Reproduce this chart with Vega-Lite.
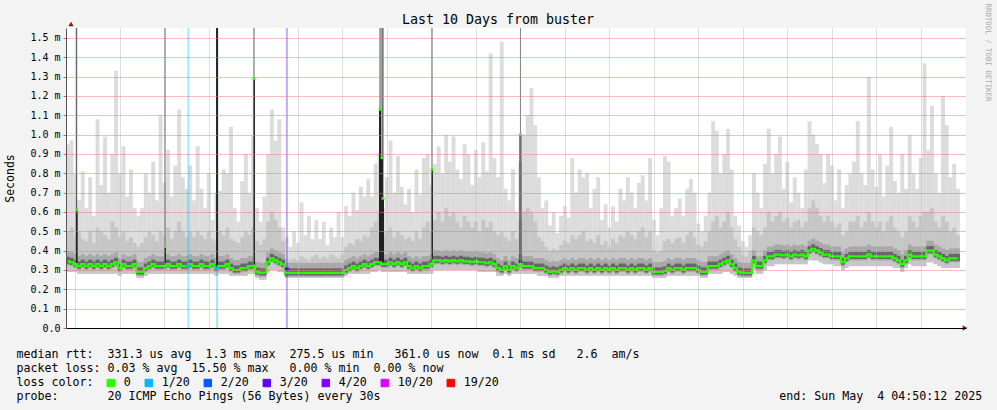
{
  "$schema": "https://vega.github.io/schema/vega-lite/v6.json",
  "width": 900,
  "height": 300,
  "autosize": {"type": "none"},
  "padding": {"left": 66, "top": 28, "right": 31, "bottom": 82},
  "background": "#f3f3f3",
  "title": {"text": "Last 10 Days from buster", "font": "DejaVu Sans Mono", "fontSize": 13.3, "fontWeight": "normal", "color": "#000000", "anchor": "middle", "frame": "group", "dx": -18, "dy": 39, "baseline": "alphabetic", "offset": 5},
  "config": {"view": {"stroke": null, "fill": "#ffffff"}, "font": "DejaVu Sans Mono"},
  "resolve": {"axis": {"y": "independent"}},
  "datasets": {
    "smoke": [
      {"t":4,"lo":0.29,"m":0.345,"h":0.5,"hi":0.95},
      {"t":5,"lo":0.29,"m":0.34,"h":0.52,"hi":0.97},
      {"t":6,"lo":0.29,"m":0.33,"h":0.48,"hi":0.8},
      {"t":7,"lo":0.28,"m":0.32,"h":0.5,"hi":0.66},
      {"t":8,"lo":0.28,"m":0.33,"h":0.46,"hi":0.81},
      {"t":9,"lo":0.28,"m":0.32,"h":0.45,"hi":0.62},
      {"t":10,"lo":0.28,"m":0.33,"h":0.5,"hi":0.78},
      {"t":11,"lo":0.28,"m":0.32,"h":0.44,"hi":0.58},
      {"t":12,"lo":0.28,"m":0.33,"h":0.52,"hi":1.08},
      {"t":13,"lo":0.28,"m":0.32,"h":0.5,"hi":0.74},
      {"t":14,"lo":0.28,"m":0.33,"h":0.48,"hi":0.99},
      {"t":15,"lo":0.28,"m":0.32,"h":0.46,"hi":0.7},
      {"t":16,"lo":0.28,"m":0.33,"h":0.55,"hi":0.9},
      {"t":17,"lo":0.28,"m":0.34,"h":0.52,"hi":1.33},
      {"t":18,"lo":0.27,"m":0.31,"h":0.47,"hi":0.8},
      {"t":19,"lo":0.28,"m":0.33,"h":0.5,"hi":0.94},
      {"t":20,"lo":0.28,"m":0.32,"h":0.45,"hi":0.68},
      {"t":21,"lo":0.28,"m":0.32,"h":0.47,"hi":0.82},
      {"t":22,"lo":0.28,"m":0.33,"h":0.44,"hi":0.62},
      {"t":23,"lo":0.26,"m":0.29,"h":0.42,"hi":0.58},
      {"t":24,"lo":0.26,"m":0.29,"h":0.44,"hi":0.62},
      {"t":25,"lo":0.27,"m":0.31,"h":0.47,"hi":0.8},
      {"t":26,"lo":0.28,"m":0.32,"h":0.5,"hi":0.7},
      {"t":27,"lo":0.28,"m":0.33,"h":0.48,"hi":0.86},
      {"t":28,"lo":0.28,"m":0.32,"h":0.45,"hi":0.66},
      {"t":29,"lo":0.28,"m":0.32,"h":0.5,"hi":1.1},
      {"t":30,"lo":0.28,"m":0.32,"h":0.48,"hi":0.75},
      {"t":31,"lo":0.28,"m":0.33,"h":0.52,"hi":0.92},
      {"t":32,"lo":0.28,"m":0.32,"h":0.46,"hi":0.68},
      {"t":33,"lo":0.28,"m":0.32,"h":0.5,"hi":0.84},
      {"t":34,"lo":0.28,"m":0.33,"h":0.55,"hi":1.13},
      {"t":35,"lo":0.28,"m":0.32,"h":0.5,"hi":0.78},
      {"t":36,"lo":0.28,"m":0.32,"h":0.47,"hi":0.72},
      {"t":37,"lo":0.28,"m":0.33,"h":0.5,"hi":0.84},
      {"t":38,"lo":0.28,"m":0.32,"h":0.47,"hi":0.66},
      {"t":39,"lo":0.28,"m":0.32,"h":0.5,"hi":0.94},
      {"t":40,"lo":0.28,"m":0.33,"h":0.48,"hi":0.72},
      {"t":41,"lo":0.28,"m":0.32,"h":0.46,"hi":0.62},
      {"t":42,"lo":0.28,"m":0.32,"h":0.5,"hi":0.8},
      {"t":43,"lo":0.28,"m":0.33,"h":0.46,"hi":0.56},
      {"t":44,"lo":0.27,"m":0.31,"h":0.45,"hi":0.7},
      {"t":45,"lo":0.28,"m":0.32,"h":0.5,"hi":0.71},
      {"t":46,"lo":0.28,"m":0.32,"h":0.48,"hi":0.82},
      {"t":47,"lo":0.28,"m":0.33,"h":0.52,"hi":0.8},
      {"t":48,"lo":0.27,"m":0.31,"h":0.46,"hi":1.04},
      {"t":49,"lo":0.27,"m":0.3,"h":0.45,"hi":0.62},
      {"t":50,"lo":0.27,"m":0.3,"h":0.44,"hi":0.55},
      {"t":51,"lo":0.27,"m":0.31,"h":0.47,"hi":0.76},
      {"t":52,"lo":0.27,"m":0.31,"h":0.5,"hi":0.9},
      {"t":53,"lo":0.28,"m":0.32,"h":0.48,"hi":0.7},
      {"t":54,"lo":0.28,"m":0.32,"h":0.52,"hi":0.99},
      {"t":55,"lo":0.26,"m":0.29,"h":0.45,"hi":0.62},
      {"t":56,"lo":0.25,"m":0.285,"h":0.43,"hi":0.55},
      {"t":57,"lo":0.25,"m":0.285,"h":0.46,"hi":0.68},
      {"t":58,"lo":0.29,"m":0.34,"h":0.55,"hi":0.9},
      {"t":59,"lo":0.3,"m":0.36,"h":0.6,"hi":1.13},
      {"t":60,"lo":0.3,"m":0.35,"h":0.56,"hi":0.97},
      {"t":61,"lo":0.29,"m":0.34,"h":0.52,"hi":1.08},
      {"t":62,"lo":0.29,"m":0.33,"h":0.45,"hi":0.52},
      {"t":63,"lo":0.26,"m":0.285,"h":0.36,"hi":0.47},
      {"t":64,"lo":0.26,"m":0.285,"h":0.35,"hi":0.42},
      {"t":65,"lo":0.26,"m":0.285,"h":0.36,"hi":0.5},
      {"t":66,"lo":0.26,"m":0.285,"h":0.35,"hi":0.44},
      {"t":67,"lo":0.26,"m":0.285,"h":0.37,"hi":0.65},
      {"t":68,"lo":0.26,"m":0.285,"h":0.36,"hi":0.48},
      {"t":69,"lo":0.26,"m":0.285,"h":0.35,"hi":0.58},
      {"t":70,"lo":0.26,"m":0.285,"h":0.37,"hi":0.46},
      {"t":71,"lo":0.26,"m":0.285,"h":0.38,"hi":0.56},
      {"t":72,"lo":0.26,"m":0.285,"h":0.36,"hi":0.46},
      {"t":73,"lo":0.26,"m":0.285,"h":0.37,"hi":0.55},
      {"t":74,"lo":0.26,"m":0.285,"h":0.36,"hi":0.43},
      {"t":75,"lo":0.26,"m":0.285,"h":0.38,"hi":0.52},
      {"t":76,"lo":0.26,"m":0.285,"h":0.37,"hi":0.47},
      {"t":77,"lo":0.26,"m":0.285,"h":0.36,"hi":0.6},
      {"t":78,"lo":0.26,"m":0.285,"h":0.38,"hi":0.47},
      {"t":79,"lo":0.27,"m":0.3,"h":0.42,"hi":0.63},
      {"t":80,"lo":0.28,"m":0.31,"h":0.44,"hi":0.58},
      {"t":81,"lo":0.28,"m":0.32,"h":0.43,"hi":0.7},
      {"t":82,"lo":0.28,"m":0.31,"h":0.46,"hi":0.61},
      {"t":83,"lo":0.28,"m":0.32,"h":0.45,"hi":0.73},
      {"t":84,"lo":0.28,"m":0.33,"h":0.48,"hi":0.68},
      {"t":85,"lo":0.28,"m":0.32,"h":0.47,"hi":0.77},
      {"t":86,"lo":0.29,"m":0.33,"h":0.52,"hi":0.68},
      {"t":87,"lo":0.29,"m":0.34,"h":0.55,"hi":0.85},
      {"t":88,"lo":0.3,"m":0.34,"h":0.6,"hi":0.9},
      {"t":89,"lo":0.29,"m":0.33,"h":0.48,"hi":0.62},
      {"t":90,"lo":0.29,"m":0.33,"h":0.5,"hi":0.78},
      {"t":91,"lo":0.29,"m":0.34,"h":0.52,"hi":0.97},
      {"t":92,"lo":0.29,"m":0.33,"h":0.47,"hi":0.7},
      {"t":93,"lo":0.29,"m":0.34,"h":0.5,"hi":0.89},
      {"t":94,"lo":0.29,"m":0.33,"h":0.48,"hi":0.73},
      {"t":95,"lo":0.29,"m":0.34,"h":0.46,"hi":0.64},
      {"t":96,"lo":0.28,"m":0.32,"h":0.47,"hi":0.72},
      {"t":97,"lo":0.28,"m":0.31,"h":0.45,"hi":0.6},
      {"t":98,"lo":0.28,"m":0.32,"h":0.5,"hi":0.82},
      {"t":99,"lo":0.28,"m":0.31,"h":0.46,"hi":0.69},
      {"t":100,"lo":0.28,"m":0.32,"h":0.52,"hi":0.88},
      {"t":101,"lo":0.28,"m":0.32,"h":0.55,"hi":0.9},
      {"t":102,"lo":0.28,"m":0.33,"h":0.5,"hi":0.74},
      {"t":103,"lo":0.3,"m":0.35,"h":0.56,"hi":0.85},
      {"t":104,"lo":0.3,"m":0.35,"h":0.6,"hi":0.94},
      {"t":105,"lo":0.3,"m":0.345,"h":0.55,"hi":0.8},
      {"t":106,"lo":0.3,"m":0.35,"h":0.62,"hi":1.0},
      {"t":107,"lo":0.3,"m":0.345,"h":0.58,"hi":0.86},
      {"t":108,"lo":0.3,"m":0.35,"h":0.6,"hi":0.99},
      {"t":109,"lo":0.3,"m":0.345,"h":0.55,"hi":0.82},
      {"t":110,"lo":0.3,"m":0.35,"h":0.52,"hi":0.77},
      {"t":111,"lo":0.3,"m":0.345,"h":0.58,"hi":0.95},
      {"t":112,"lo":0.3,"m":0.345,"h":0.55,"hi":0.9},
      {"t":113,"lo":0.3,"m":0.34,"h":0.52,"hi":0.74},
      {"t":114,"lo":0.3,"m":0.345,"h":0.55,"hi":0.92},
      {"t":115,"lo":0.29,"m":0.34,"h":0.5,"hi":0.78},
      {"t":116,"lo":0.29,"m":0.34,"h":0.56,"hi":0.96},
      {"t":117,"lo":0.29,"m":0.335,"h":0.52,"hi":0.81},
      {"t":118,"lo":0.29,"m":0.34,"h":0.55,"hi":1.42},
      {"t":119,"lo":0.29,"m":0.33,"h":0.5,"hi":0.88},
      {"t":120,"lo":0.27,"m":0.31,"h":0.48,"hi":0.78},
      {"t":121,"lo":0.27,"m":0.3,"h":0.5,"hi":1.48},
      {"t":122,"lo":0.28,"m":0.32,"h":0.47,"hi":0.72},
      {"t":123,"lo":0.27,"m":0.3,"h":0.45,"hi":0.66},
      {"t":124,"lo":0.28,"m":0.32,"h":0.5,"hi":0.82},
      {"t":125,"lo":0.28,"m":0.31,"h":0.46,"hi":0.6},
      {"t":126,"lo":0.28,"m":0.33,"h":0.55,"hi":0.86},
      {"t":127,"lo":0.28,"m":0.32,"h":0.6,"hi":1.0},
      {"t":128,"lo":0.28,"m":0.32,"h":0.62,"hi":1.1},
      {"t":129,"lo":0.28,"m":0.32,"h":0.6,"hi":1.24},
      {"t":130,"lo":0.28,"m":0.31,"h":0.55,"hi":1.05},
      {"t":131,"lo":0.27,"m":0.31,"h":0.47,"hi":0.78},
      {"t":132,"lo":0.27,"m":0.31,"h":0.45,"hi":0.62},
      {"t":133,"lo":0.27,"m":0.3,"h":0.42,"hi":0.66},
      {"t":134,"lo":0.26,"m":0.29,"h":0.4,"hi":0.53},
      {"t":135,"lo":0.26,"m":0.295,"h":0.41,"hi":0.6},
      {"t":136,"lo":0.26,"m":0.29,"h":0.4,"hi":0.49},
      {"t":137,"lo":0.27,"m":0.3,"h":0.43,"hi":0.58},
      {"t":138,"lo":0.27,"m":0.31,"h":0.45,"hi":0.63},
      {"t":139,"lo":0.27,"m":0.3,"h":0.44,"hi":0.57},
      {"t":140,"lo":0.27,"m":0.31,"h":0.48,"hi":0.88},
      {"t":141,"lo":0.27,"m":0.3,"h":0.46,"hi":0.7},
      {"t":142,"lo":0.27,"m":0.31,"h":0.48,"hi":0.82},
      {"t":143,"lo":0.27,"m":0.31,"h":0.5,"hi":0.78},
      {"t":144,"lo":0.27,"m":0.3,"h":0.45,"hi":0.8},
      {"t":145,"lo":0.27,"m":0.31,"h":0.46,"hi":0.62},
      {"t":146,"lo":0.27,"m":0.3,"h":0.44,"hi":0.72},
      {"t":147,"lo":0.27,"m":0.31,"h":0.48,"hi":0.78},
      {"t":148,"lo":0.27,"m":0.3,"h":0.43,"hi":0.56},
      {"t":149,"lo":0.27,"m":0.31,"h":0.45,"hi":0.64},
      {"t":150,"lo":0.27,"m":0.3,"h":0.42,"hi":0.52},
      {"t":151,"lo":0.27,"m":0.31,"h":0.46,"hi":0.63},
      {"t":152,"lo":0.27,"m":0.3,"h":0.44,"hi":0.55},
      {"t":153,"lo":0.27,"m":0.31,"h":0.48,"hi":0.72},
      {"t":154,"lo":0.27,"m":0.31,"h":0.47,"hi":0.66},
      {"t":155,"lo":0.27,"m":0.3,"h":0.5,"hi":0.78},
      {"t":156,"lo":0.27,"m":0.31,"h":0.48,"hi":0.7},
      {"t":157,"lo":0.27,"m":0.3,"h":0.46,"hi":0.62},
      {"t":158,"lo":0.27,"m":0.31,"h":0.5,"hi":0.75},
      {"t":159,"lo":0.27,"m":0.31,"h":0.52,"hi":0.79},
      {"t":160,"lo":0.27,"m":0.3,"h":0.47,"hi":0.66},
      {"t":161,"lo":0.27,"m":0.31,"h":0.5,"hi":0.88},
      {"t":162,"lo":0.26,"m":0.29,"h":0.4,"hi":0.56},
      {"t":163,"lo":0.26,"m":0.29,"h":0.39,"hi":0.48},
      {"t":164,"lo":0.26,"m":0.29,"h":0.4,"hi":0.62},
      {"t":165,"lo":0.26,"m":0.295,"h":0.45,"hi":0.89},
      {"t":166,"lo":0.27,"m":0.31,"h":0.46,"hi":0.86},
      {"t":167,"lo":0.27,"m":0.3,"h":0.44,"hi":0.58},
      {"t":168,"lo":0.27,"m":0.31,"h":0.46,"hi":0.62},
      {"t":169,"lo":0.27,"m":0.31,"h":0.47,"hi":0.67},
      {"t":170,"lo":0.27,"m":0.3,"h":0.44,"hi":0.58},
      {"t":171,"lo":0.27,"m":0.31,"h":0.48,"hi":0.72},
      {"t":172,"lo":0.27,"m":0.31,"h":0.5,"hi":0.77},
      {"t":173,"lo":0.27,"m":0.31,"h":0.47,"hi":0.7},
      {"t":174,"lo":0.27,"m":0.3,"h":0.43,"hi":0.54},
      {"t":175,"lo":0.26,"m":0.29,"h":0.42,"hi":0.5},
      {"t":176,"lo":0.26,"m":0.29,"h":0.45,"hi":0.58},
      {"t":177,"lo":0.28,"m":0.32,"h":0.5,"hi":0.7},
      {"t":178,"lo":0.28,"m":0.32,"h":0.55,"hi":1.07},
      {"t":179,"lo":0.28,"m":0.32,"h":0.58,"hi":1.02},
      {"t":180,"lo":0.28,"m":0.33,"h":0.52,"hi":0.8},
      {"t":181,"lo":0.29,"m":0.34,"h":0.55,"hi":0.9},
      {"t":182,"lo":0.29,"m":0.35,"h":0.6,"hi":1.03},
      {"t":183,"lo":0.28,"m":0.33,"h":0.52,"hi":0.82},
      {"t":184,"lo":0.27,"m":0.31,"h":0.46,"hi":0.58},
      {"t":185,"lo":0.26,"m":0.29,"h":0.42,"hi":0.53},
      {"t":186,"lo":0.26,"m":0.285,"h":0.38,"hi":0.45},
      {"t":187,"lo":0.26,"m":0.285,"h":0.37,"hi":0.42},
      {"t":188,"lo":0.26,"m":0.285,"h":0.4,"hi":0.48},
      {"t":189,"lo":0.3,"m":0.35,"h":0.52,"hi":0.8},
      {"t":190,"lo":0.28,"m":0.32,"h":0.5,"hi":0.7},
      {"t":191,"lo":0.28,"m":0.32,"h":0.48,"hi":0.62},
      {"t":192,"lo":0.3,"m":0.35,"h":0.52,"hi":0.85},
      {"t":193,"lo":0.32,"m":0.37,"h":0.6,"hi":1.03},
      {"t":194,"lo":0.32,"m":0.37,"h":0.55,"hi":0.8},
      {"t":195,"lo":0.33,"m":0.38,"h":0.58,"hi":0.9},
      {"t":196,"lo":0.33,"m":0.38,"h":0.6,"hi":0.99},
      {"t":197,"lo":0.33,"m":0.375,"h":0.55,"hi":0.72},
      {"t":198,"lo":0.33,"m":0.38,"h":0.57,"hi":0.86},
      {"t":199,"lo":0.33,"m":0.37,"h":0.52,"hi":0.65},
      {"t":200,"lo":0.33,"m":0.38,"h":0.55,"hi":0.78},
      {"t":201,"lo":0.33,"m":0.375,"h":0.56,"hi":0.7},
      {"t":202,"lo":0.33,"m":0.38,"h":0.52,"hi":0.62},
      {"t":203,"lo":0.33,"m":0.37,"h":0.55,"hi":0.82},
      {"t":204,"lo":0.35,"m":0.4,"h":0.62,"hi":1.07},
      {"t":205,"lo":0.35,"m":0.41,"h":0.66,"hi":1.0},
      {"t":206,"lo":0.35,"m":0.4,"h":0.62,"hi":0.95},
      {"t":207,"lo":0.34,"m":0.39,"h":0.58,"hi":0.9},
      {"t":208,"lo":0.33,"m":0.38,"h":0.55,"hi":0.75},
      {"t":209,"lo":0.33,"m":0.38,"h":0.58,"hi":0.9},
      {"t":210,"lo":0.33,"m":0.37,"h":0.55,"hi":0.84},
      {"t":211,"lo":0.32,"m":0.37,"h":0.52,"hi":0.66},
      {"t":212,"lo":0.32,"m":0.37,"h":0.54,"hi":0.82},
      {"t":213,"lo":0.3,"m":0.34,"h":0.48,"hi":0.62},
      {"t":214,"lo":0.31,"m":0.36,"h":0.5,"hi":0.74},
      {"t":215,"lo":0.32,"m":0.37,"h":0.55,"hi":0.8},
      {"t":216,"lo":0.32,"m":0.37,"h":0.55,"hi":0.86},
      {"t":217,"lo":0.32,"m":0.37,"h":0.58,"hi":1.07},
      {"t":218,"lo":0.32,"m":0.37,"h":0.52,"hi":0.8},
      {"t":219,"lo":0.32,"m":0.37,"h":0.55,"hi":0.74},
      {"t":220,"lo":0.32,"m":0.38,"h":0.6,"hi":1.3},
      {"t":221,"lo":0.32,"m":0.37,"h":0.55,"hi":0.82},
      {"t":222,"lo":0.32,"m":0.37,"h":0.52,"hi":0.73},
      {"t":223,"lo":0.32,"m":0.37,"h":0.55,"hi":0.9},
      {"t":224,"lo":0.32,"m":0.37,"h":0.5,"hi":0.68},
      {"t":225,"lo":0.32,"m":0.37,"h":0.55,"hi":0.84},
      {"t":226,"lo":0.32,"m":0.37,"h":0.58,"hi":1.04},
      {"t":227,"lo":0.31,"m":0.36,"h":0.52,"hi":0.76},
      {"t":228,"lo":0.31,"m":0.35,"h":0.5,"hi":0.7},
      {"t":229,"lo":0.29,"m":0.33,"h":0.47,"hi":0.9},
      {"t":230,"lo":0.31,"m":0.35,"h":0.5,"hi":0.72},
      {"t":231,"lo":0.33,"m":0.38,"h":0.58,"hi":1.0},
      {"t":232,"lo":0.32,"m":0.37,"h":0.55,"hi":0.8},
      {"t":233,"lo":0.32,"m":0.37,"h":0.52,"hi":0.72},
      {"t":234,"lo":0.32,"m":0.37,"h":0.58,"hi":0.88},
      {"t":235,"lo":0.32,"m":0.37,"h":0.6,"hi":1.37},
      {"t":236,"lo":0.34,"m":0.4,"h":0.6,"hi":0.92},
      {"t":237,"lo":0.34,"m":0.4,"h":0.62,"hi":1.15},
      {"t":238,"lo":0.33,"m":0.38,"h":0.55,"hi":0.8},
      {"t":239,"lo":0.32,"m":0.37,"h":0.52,"hi":0.7},
      {"t":240,"lo":0.31,"m":0.36,"h":0.58,"hi":1.2},
      {"t":241,"lo":0.31,"m":0.35,"h":0.55,"hi":1.05},
      {"t":242,"lo":0.31,"m":0.36,"h":0.5,"hi":0.78},
      {"t":243,"lo":0.31,"m":0.36,"h":0.52,"hi":0.85},
      {"t":244,"lo":0.31,"m":0.36,"h":0.48,"hi":0.72}
    ],
    "spikes": [
      {"t":6.36,"b":0.33,"d":0.61,"top":1.6,"g":0.61},
      {"t":30.17,"b":0.32,"d":0.42,"top":1.6,"g":0.42},
      {"t":44.23,"b":0.31,"d":1.6,"top":1.6},
      {"t":54.17,"b":0.33,"d":1.29,"top":1.6,"g":1.29},
      {"t":88.17,"b":0.34,"d":1.13,"top":1.6,"g":1.13},
      {"t":88.7,"b":0.34,"d":0.88,"top":1.6,"g":0.88},
      {"t":88.97,"b":0.34,"d":0.67,"top":1.6,"g":0.67},
      {"t":102.17,"b":0.34,"d":0.82,"top":1.6,"g":0.82},
      {"t":126.04,"b":0.33,"d":1.0,"top":1.6,"g":1.0}
    ],
    "loss": [
      {"t":36.49,"l":"1/20","m":0.32},
      {"t":44.23,"l":"1/20","m":0.31},
      {"t":63.05,"l":"3/20","m":0.305}
    ]
  },
  "layer": [
    {
      "data": {"name": "smoke"},
      "mark": {"type": "bar", "width": 3.9, "color": "#dcdcdc", "clip": true},
      "encoding": {
        "x": {
          "field": "t", "type": "quantitative",
          "scale": {"domain": [4.837, 244.837], "nice": false, "zero": false},
          "axis": {
            "values": [6,12,18,24,30,36,42,48,54,60,66,72,78,84,90,96,102,108,114,120,126,132,138,144,150,156,162,168,174,180,186,192,198,204,210,216,222,228,234,240],
            "labelExpr": "datum.value % 24 == 12 ? ['Thu 24 Apr','Fri 25 Apr','Sat 26 Apr','Sun 27 Apr','Mon 28 Apr','Tue 29 Apr','Wed 30 Apr','Thu 01 May','Fri 02 May','Sat 03 May'][floor(datum.value / 24)] : ''",
            "grid": true,
            "gridColor": {"condition": {"test": "datum.value % 24 == 0", "value": "#e27a7a"}, "value": "#bdbdbd"},
            "gridDash": [1, 1],
            "tickColor": {"condition": {"test": "datum.value % 24 == 0", "value": "#d06060"}, "value": "transparent"},
            "tickSize": 3,
            "domainColor": "#000000",
            "labelFont": "DejaVu Sans Mono", "labelFontSize": 10, "labelColor": "#000000", "labelPadding": 1,
            "labelOverlap": false, "labelFlush": false, "labelBound": false,
            "zindex": 1,
            "title": [
              "median rtt:\u00a0\u00a0331.3 us avg\u00a0\u00a01.3 ms max\u00a0\u00a0275.5 us min\u00a0\u00a0\u00a0361.0 us now\u00a0\u00a00.1 ms sd\u00a0\u00a0\u00a02.6\u00a0\u00a0am/s",
              "packet loss: 0.03 % avg\u00a0\u00a015.50 % max\u00a0\u00a0\u00a00.00 % min\u00a0\u00a00.00 % now",
              "loss color:",
              "probe:\u00a0\u00a0\u00a0\u00a0\u00a0\u00a0\u00a020 ICMP Echo Pings (56 Bytes) every 30s\u00a0\u00a0\u00a0\u00a0\u00a0\u00a0\u00a0\u00a0\u00a0\u00a0\u00a0\u00a0\u00a0\u00a0\u00a0\u00a0\u00a0\u00a0\u00a0\u00a0\u00a0\u00a0\u00a0\u00a0\u00a0\u00a0\u00a0\u00a0\u00a0\u00a0\u00a0\u00a0\u00a0\u00a0\u00a0\u00a0\u00a0\u00a0\u00a0\u00a0\u00a0\u00a0\u00a0\u00a0\u00a0\u00a0\u00a0\u00a0\u00a0\u00a0\u00a0\u00a0\u00a0\u00a0\u00a0\u00a0\u00a0end: Sun May\u00a0\u00a04 04:50:12 2025"
            ],
            "titleX": -50, "titleY": 29, "titleAlign": "left", "titleBaseline": "alphabetic",
            "titleFont": "DejaVu Sans Mono", "titleFontSize": 11.63, "titleFontWeight": "normal", "titleColor": "#000000", "titleLineHeight": 14
          }
        },
        "y": {
          "field": "lo", "type": "quantitative",
          "scale": {"domain": [0, 1.5517], "nice": false, "zero": false},
          "axis": {
            "orient": "left",
            "values": [0,0.1,0.2,0.3,0.4,0.5,0.6,0.7,0.8,0.9,1,1.1,1.2,1.3,1.4,1.5],
            "labelExpr": "datum.value == 0 ? '0.0' : format(datum.value, '.1f') + ' m'",
            "grid": true, "gridColor": "#e27a7a", "gridDash": [1, 1],
            "gridOpacity": {"condition": {"test": "datum.value == 0", "value": 0}, "value": 1},
            "tickColor": "#d06060", "tickSize": 3,
            "domainColor": "#555555",
            "labelFont": "DejaVu Sans Mono", "labelFontSize": 10, "labelColor": "#000000", "labelPadding": 3,
            "zindex": 1,
            "title": "Seconds", "titleX": -56, "titleY": 150, "titleAngle": -90, "titleAlign": "center", "titleBaseline": "middle",
            "titleFont": "DejaVu Sans Mono", "titleFontSize": 11.5, "titleFontWeight": "normal", "titleColor": "#000000"
          }
        },
        "y2": {"field": "hi"}
      }
    },
    {
      "data": {"name": "smoke"},
      "mark": {"type": "bar", "width": 3.9, "color": "#c6c6c6", "clip": true},
      "encoding": {
        "x": {"field": "t", "type": "quantitative"},
        "y": {
          "field": "lo", "type": "quantitative",
          "axis": {
            "orient": "right", "domain": false, "ticks": false, "labels": false, "grid": false,
            "title": "RRDTOOL / TOBI OETIKER", "titleX": 21, "titleY": 24, "titleAngle": 90, "titleAlign": "center", "titleBaseline": "middle",
            "titleFont": "DejaVu Sans Mono", "titleFontSize": 7.4, "titleFontWeight": "normal", "titleColor": "#aaaaaa"
          }
        },
        "y2": {"field": "h"}
      }
    },
    {
      "data": {"name": "smoke"},
      "mark": {"type": "tick", "orient": "horizontal", "size": 3.9, "thickness": 14, "color": "#a8a8a8", "opacity": 1, "yOffset": -3, "clip": true},
      "encoding": {
        "x": {"field": "t", "type": "quantitative"},
        "y": {"field": "m", "type": "quantitative", "axis": null}
      }
    },
    {
      "data": {"name": "smoke"},
      "mark": {"type": "tick", "orient": "horizontal", "size": 3.9, "thickness": 7, "color": "#666666", "opacity": 1, "yOffset": -1, "clip": true},
      "encoding": {
        "x": {"field": "t", "type": "quantitative"},
        "y": {"field": "m", "type": "quantitative", "axis": null}
      }
    },
    {
      "data": {"name": "loss"},
      "mark": {"type": "rule", "strokeWidth": 2, "opacity": 0.35},
      "encoding": {
        "x": {"field": "t", "type": "quantitative"},
        "color": {
          "field": "l", "type": "nominal",
          "scale": {"domain": ["0","1/20","2/20","3/20","4/20","10/20","19/20"], "range": ["#26ff00","#00b8ff","#0059ff","#5e00ff","#7e00ff","#dd00ff","#ff0000"]},
          "legend": {
            "orient": "none", "legendX": 39, "legendY": 349, "direction": "horizontal",
            "title": null,
            "labelExpr": "length(datum.label) > 4 ? datum.label + '\u00a0\u00a0' : length(datum.label) > 1 ? datum.label + '\u00a0' : datum.label",
            "symbolType": "square", "symbolSize": 56, "symbolStrokeWidth": 1, "symbolStrokeColor": "#000000", "symbolOpacity": 1,
            "labelFont": "DejaVu Sans Mono", "labelFontSize": 11.63, "labelColor": "#000000", "labelOffset": 7, "columnPadding": 12, "padding": 0,
            "encode": {"symbols": {"update": {"fill": {"scale": "color", "field": "value"}, "stroke": {"value": "#000000"}, "opacity": {"value": 1}, "strokeWidth": {"value": 1}}}}
          }
        }
      }
    },
    {
      "data": {"name": "spikes"},
      "mark": {"type": "rule", "strokeWidth": 1, "color": "#4a4a4a", "clip": true},
      "encoding": {
        "x": {"field": "t", "type": "quantitative"},
        "y": {"field": "b", "type": "quantitative", "axis": null},
        "y2": {"field": "top"}
      }
    },
    {
      "data": {"name": "spikes"},
      "mark": {"type": "rule", "strokeWidth": 2, "color": "#222222", "clip": true},
      "encoding": {
        "x": {"field": "t", "type": "quantitative"},
        "y": {"field": "b", "type": "quantitative", "axis": null},
        "y2": {"field": "d"}
      }
    },
    {
      "data": {"name": "smoke"},
      "mark": {"type": "line", "interpolate": "step", "color": "#26ff00", "strokeWidth": 2.2, "clip": true},
      "encoding": {
        "x": {"field": "t", "type": "quantitative"},
        "y": {"field": "m", "type": "quantitative", "axis": null}
      }
    },
    {
      "data": {"name": "loss"},
      "mark": {"type": "tick", "orient": "horizontal", "size": 4, "thickness": 3, "opacity": 1},
      "encoding": {
        "x": {"field": "t", "type": "quantitative"},
        "y": {"field": "m", "type": "quantitative", "axis": null},
        "color": {"field": "l", "type": "nominal", "scale": {"domain": ["0","1/20","2/20","3/20","4/20","10/20","19/20"], "range": ["#26ff00","#00b8ff","#0059ff","#5e00ff","#7e00ff","#dd00ff","#ff0000"]}}
      }
    },
    {
      "data": {"name": "spikes"},
      "mark": {"type": "tick", "orient": "horizontal", "size": 3, "thickness": 2.5, "color": "#26ff00", "opacity": 1, "clip": true},
      "encoding": {
        "x": {"field": "t", "type": "quantitative"},
        "y": {"field": "g", "type": "quantitative", "axis": null}
      }
    },
    {
      "data": {"values": [{}]},
      "mark": {"type": "point", "shape": "triangle-up", "filled": true, "size": 28, "color": "#8b1a1a", "opacity": 1, "yOffset": -4},
      "encoding": {
        "x": {"datum": 4.837, "type": "quantitative"},
        "y": {"datum": 1.5517, "type": "quantitative", "axis": null}
      }
    },
    {
      "data": {"values": [{}]},
      "mark": {"type": "point", "shape": "triangle-right", "filled": true, "size": 28, "color": "#8b1a1a", "opacity": 1, "xOffset": 4},
      "encoding": {
        "x": {"datum": 244.837, "type": "quantitative"},
        "y": {"datum": 0, "type": "quantitative", "axis": null}
      }
    }
  ]
}
